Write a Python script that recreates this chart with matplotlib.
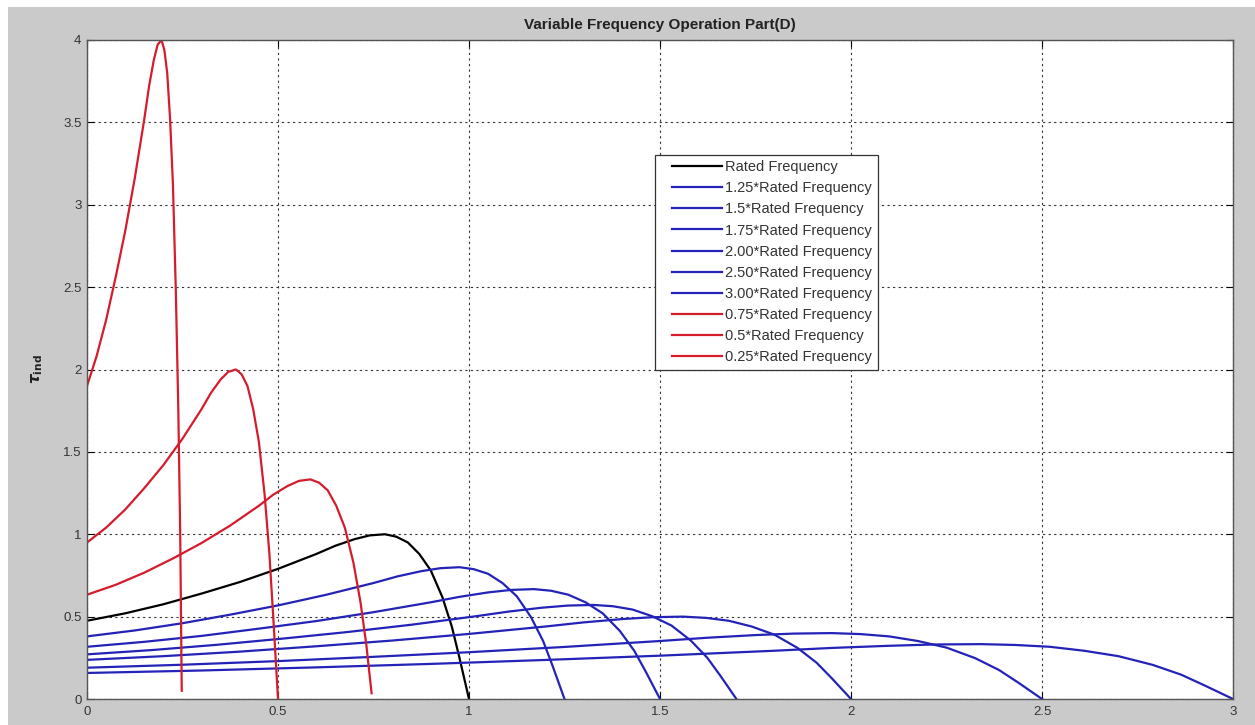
import matplotlib
matplotlib.use("Agg")
import matplotlib.pyplot as plt
from matplotlib.lines import Line2D
from matplotlib.legend_handler import HandlerLine2D
from matplotlib.patches import Rectangle
from matplotlib.ticker import FormatStrFormatter, MultipleLocator

plt.rcParams["font.family"] = ["Liberation Sans", "DejaVu Sans"]

# speed (x) and induced torque (y) for each supply frequency
x_rated = [0, 0.1, 0.2, 0.3, 0.4, 0.5, 0.6, 0.65, 0.7, 0.74, 0.78, 0.81, 0.84, 0.87, 0.9, 0.93, 0.955, 0.975, 1.0]
y_rated = [0.475, 0.52, 0.575, 0.64, 0.71, 0.79, 0.88, 0.93, 0.97, 0.993, 1.0, 0.985, 0.95, 0.88, 0.78, 0.62, 0.44, 0.25, 0.0]

x_125 = [0, 0.125, 0.25, 0.375, 0.5, 0.625, 0.75, 0.8125, 0.875, 0.925, 0.975, 1.0125, 1.05, 1.0875, 1.125, 1.1625, 1.194, 1.219, 1.25]
y_125 = [0.38, 0.416, 0.46, 0.512, 0.568, 0.632, 0.704, 0.744, 0.776, 0.794, 0.8, 0.788, 0.76, 0.704, 0.624, 0.496, 0.352, 0.2, 0.0]

x_150 = [0, 0.15, 0.3, 0.45, 0.6, 0.75, 0.9, 0.975, 1.05, 1.11, 1.17, 1.215, 1.26, 1.305, 1.35, 1.395, 1.4325, 1.4625, 1.5]
y_150 = [0.317, 0.347, 0.383, 0.427, 0.473, 0.527, 0.587, 0.62, 0.647, 0.662, 0.667, 0.657, 0.633, 0.587, 0.52, 0.413, 0.293, 0.167, 0.0]

x_175 = [0, 0.17, 0.34, 0.51, 0.68, 0.85, 1.02, 1.105, 1.19, 1.258, 1.326, 1.377, 1.428, 1.479, 1.53, 1.581, 1.6235, 1.6575, 1.7]
y_175 = [0.271, 0.297, 0.329, 0.366, 0.406, 0.451, 0.503, 0.531, 0.554, 0.567, 0.571, 0.563, 0.543, 0.503, 0.446, 0.354, 0.251, 0.143, 0.0]

x_200 = [0, 0.2, 0.4, 0.6, 0.8, 1.0, 1.2, 1.3, 1.4, 1.48, 1.56, 1.62, 1.68, 1.74, 1.8, 1.86, 1.91, 1.95, 2.0]
y_200 = [0.2375, 0.26, 0.2875, 0.32, 0.355, 0.395, 0.44, 0.465, 0.485, 0.4965, 0.5, 0.4925, 0.475, 0.44, 0.39, 0.31, 0.22, 0.125, 0.0]

x_250 = [0, 0.25, 0.5, 0.75, 1.0, 1.25, 1.5, 1.625, 1.75, 1.85, 1.95, 2.025, 2.1, 2.175, 2.25, 2.325, 2.3875, 2.4375, 2.5]
y_250 = [0.19, 0.208, 0.23, 0.256, 0.284, 0.316, 0.352, 0.372, 0.388, 0.397, 0.4, 0.394, 0.38, 0.352, 0.312, 0.248, 0.176, 0.1, 0.0]

x_300 = [0, 0.3, 0.6, 0.9, 1.2, 1.5, 1.8, 1.95, 2.1, 2.22, 2.34, 2.43, 2.52, 2.61, 2.7, 2.79, 2.865, 2.925, 3.0]
y_300 = [0.158, 0.173, 0.192, 0.213, 0.237, 0.263, 0.293, 0.31, 0.323, 0.331, 0.333, 0.328, 0.317, 0.293, 0.26, 0.207, 0.147, 0.083, 0.0]

x_075 = [0, 0.075, 0.15, 0.225, 0.3, 0.375, 0.45, 0.4875, 0.525, 0.555, 0.585, 0.6075, 0.63, 0.6525, 0.675, 0.6975, 0.716, 0.731, 0.745]
y_075 = [0.633, 0.693, 0.767, 0.853, 0.947, 1.053, 1.173, 1.24, 1.293, 1.324, 1.333, 1.313, 1.267, 1.173, 1.04, 0.827, 0.587, 0.333, 0.035]

x_050 = [0, 0.05, 0.1, 0.15, 0.2, 0.25, 0.3, 0.325, 0.35, 0.37, 0.39, 0.405, 0.42, 0.435, 0.45, 0.465, 0.4775, 0.4875, 0.5]
y_050 = [0.95, 1.04, 1.15, 1.28, 1.42, 1.58, 1.76, 1.86, 1.94, 1.986, 2.0, 1.97, 1.9, 1.76, 1.56, 1.24, 0.88, 0.5, 0.0]

x_025 = [0, 0.025, 0.05, 0.075, 0.1, 0.125, 0.15, 0.1625, 0.175, 0.185, 0.195, 0.2025, 0.21, 0.2175, 0.225, 0.2325, 0.239, 0.244, 0.248]
y_025 = [1.9, 2.08, 2.3, 2.56, 2.84, 3.16, 3.52, 3.72, 3.88, 3.972, 4.0, 3.94, 3.8, 3.52, 3.12, 2.48, 1.76, 1.0, 0.05]

labels = ["Rated Frequency", "1.25*Rated Frequency", "1.5*Rated Frequency",
          "1.75*Rated Frequency", "2.00*Rated Frequency", "2.50*Rated Frequency",
          "3.00*Rated Frequency", "0.75*Rated Frequency", "0.5*Rated Frequency",
          "0.25*Rated Frequency"]

curves = [(x_rated, y_rated), (x_125, y_125), (x_150, y_150), (x_175, y_175),
          (x_200, y_200), (x_250, y_250), (x_300, y_300),
          (x_075, y_075), (x_050, y_050), (x_025, y_025)]
colors = ["black"] + ["#2323b8"] * 6 + ["#d41c2c"] * 3

fig = plt.figure(figsize=(12.55, 7.25), dpi=100, facecolor="white")
fig.patches.append(Rectangle((8 / 1255, 0), 1, 1 - 7 / 725, transform=fig.transFigure,
                             facecolor="#cacaca", edgecolor="none", zorder=-10))
ax = fig.add_axes([87 / 1255, 26 / 725, 1146 / 1255, 659 / 725])

for (xs, ys), c, lb in zip(curves, colors, labels):
    ax.plot(xs, ys, color=c, lw=1.6, label=lb)

ax.set_xlim(0, 3)
ax.set_ylim(0, 4)
ax.xaxis.set_major_locator(MultipleLocator(0.5))
ax.yaxis.set_major_locator(MultipleLocator(0.5))
ax.xaxis.set_major_formatter(FormatStrFormatter("%g"))
ax.yaxis.set_major_formatter(FormatStrFormatter("%g"))
ax.tick_params(direction="in", top=True, right=True, length=5, width=0.8,
               labelsize=9.5, labelcolor="#333333")
ax.tick_params(axis="x", pad=5)
ax.tick_params(axis="y", pad=4)
ax.grid(True, color="#333333", linestyle=(0, (2, 3)), linewidth=0.8)
for sp in ax.spines.values():
    sp.set_color("#555555")
    sp.set_linewidth(1.0)

ax.set_title("Variable Frequency Operation Part(D)", fontsize=11, fontweight="bold",
             color="#222222", pad=8)
ax.set_ylabel(r"$\boldsymbol{\tau}_{\mathbf{ind}}$", fontsize=11, color="#222222")
ax.yaxis.set_label_coords(-0.037, 0.5)

leg = ax.legend(loc="upper left", bbox_to_anchor=(0.496, 0.8255), fontsize=10.5,
                frameon=True, fancybox=False, framealpha=1, edgecolor="#333333",
                handlelength=4.2, handletextpad=0.25, labelspacing=0.49,
                borderpad=0.35, borderaxespad=0,
                handler_map={Line2D: HandlerLine2D(xpad=0.8)})
leg.get_frame().set_linewidth(0.9)
for t in leg.get_texts():
    t.set_color("#333333")

fig.savefig("out.png", dpi=100, facecolor=fig.get_facecolor())
